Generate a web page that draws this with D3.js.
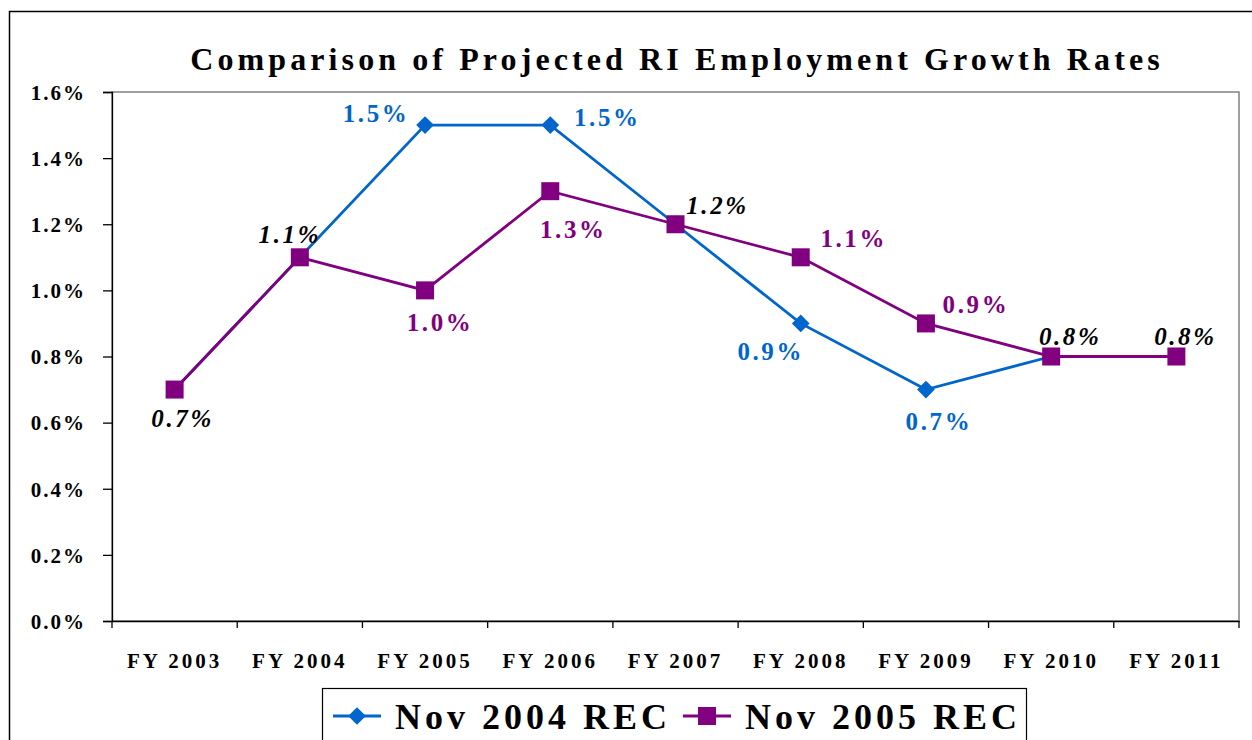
<!DOCTYPE html>
<html>
<head>
<meta charset="utf-8">
<script src="https://cdn.jsdelivr.net/npm/d3@7"></script>
<style>
body{margin:0;background:#fff;}
svg text{font-family:"Liberation Serif","Times New Roman",serif;font-weight:bold;}
</style>
</head>
<body>
<div id="chart"></div>
<script>
var years = ["FY 2003","FY 2004","FY 2005","FY 2006","FY 2007","FY 2008","FY 2009","FY 2010","FY 2011"];
var nov2004 = [0.7, 1.1, 1.5, 1.5, 1.2, 0.9, 0.7, 0.8, null];
var nov2005 = [0.7, 1.1, 1.0, 1.3, 1.2, 1.1, 0.9, 0.8, 0.8];
var yTicks = [0, 0.2, 0.4, 0.6, 0.8, 1.0, 1.2, 1.4, 1.6];
// data labels: year index, value, text, colour key, offset from the point
var labels = [
  {i:0, v:0.7, t:"0.7%", c:"black", dx:8, dy:37},
  {i:1, v:1.1, t:"1.1%", c:"black", dx:-10, dy:-14},
  {i:2, v:1.5, t:"1.5%", c:"blue", dx:-49, dy:-3},
  {i:2, v:1.0, t:"1.0%", c:"purple", dx:15, dy:41},
  {i:3, v:1.5, t:"1.5%", c:"blue", dx:57, dy:1},
  {i:3, v:1.3, t:"1.3%", c:"purple", dx:23, dy:47},
  {i:4, v:1.2, t:"1.2%", c:"black", dx:42, dy:-10},
  {i:5, v:1.1, t:"1.1%", c:"purple", dx:53, dy:-10},
  {i:5, v:0.9, t:"0.9%", c:"blue", dx:-30, dy:37},
  {i:6, v:0.9, t:"0.9%", c:"purple", dx:50, dy:-10},
  {i:6, v:0.7, t:"0.7%", c:"blue", dx:13, dy:40},
  {i:7, v:0.8, t:"0.8%", c:"black", dx:19, dy:-12},
  {i:8, v:0.8, t:"0.8%", c:"black", dx:9, dy:-12}
];

var colors = {blue:"#0066CC", purple:"#800080", black:"#000000"};
var W = 1252, H = 740;
var mLeft = 112, mRight = 1239, mTop = 92, mBottom = 621;

var svg = d3.select("#chart").append("svg").attr("width", W).attr("height", H);

// outer frame
svg.append("rect").attr("x", 9.5).attr("y", 11.5).attr("width", W + 20).attr("height", H)
  .attr("fill", "none").attr("stroke", "#000").attr("stroke-width", 1.5);

var x = d3.scaleBand().domain(years).range([mLeft, mRight]);
var y = d3.scaleLinear().domain([0, 1.6]).range([mBottom, mTop]);

// plot area
svg.append("rect").attr("x", mLeft).attr("y", mTop).attr("width", mRight - mLeft).attr("height", mBottom - mTop)
  .attr("fill", "none").attr("stroke", "#808080").attr("stroke-width", 1.5);

svg.append("text").attr("x", 677).attr("y", 70).attr("text-anchor", "middle")
  .style("font-size", "32px").style("letter-spacing", "4.1px")
  .text("Comparison of Projected RI Employment Growth Rates");

var yAxis = svg.append("g").attr("transform", "translate(" + mLeft + ",0)")
  .call(d3.axisLeft(y).tickValues(yTicks).tickSize(9).tickPadding(17)
    .tickFormat(function(d){ return d.toFixed(1) + "%"; }));
yAxis.selectAll("text").style("font-size", "21px").style("letter-spacing", "2px").attr("fill", "#000").attr("dy", "0.35em");
yAxis.selectAll("line,path").attr("stroke", "#000").attr("stroke-width", 1.3);

var xAxis = svg.append("g").attr("transform", "translate(0," + mBottom + ")")
  .call(d3.axisBottom(x).tickSize(7).tickPadding(25).tickSizeOuter(0));
xAxis.selectAll(".tick line").remove();
xAxis.selectAll("text").style("font-size", "21px").style("letter-spacing", "3px").attr("fill", "#000");
xAxis.select("path").attr("stroke", "#000").attr("stroke-width", 1.3);
// category boundary ticks
xAxis.selectAll(".bound").data(d3.range(years.length + 1)).enter().append("line")
  .attr("class", "bound")
  .attr("x1", function(i){ return mLeft + i * x.bandwidth(); })
  .attr("x2", function(i){ return mLeft + i * x.bandwidth(); })
  .attr("y1", 0).attr("y2", 7).attr("stroke", "#000").attr("stroke-width", 1.3);

function cx(i){ return x(years[i]) + x.bandwidth() / 2; }

var line = d3.line().defined(function(d){ return d != null; })
  .x(function(d, i){ return cx(i); }).y(function(d){ return y(d); });

svg.append("path").datum(nov2004).attr("d", line).attr("fill", "none")
  .attr("stroke", colors.blue).attr("stroke-width", 2.8);
nov2004.forEach(function(d, i){
  if (d == null) return;
  svg.append("path").attr("d", d3.symbol().type(d3.symbolDiamond2).size(200))
    .attr("transform", "translate(" + cx(i) + "," + y(d) + ")").attr("fill", colors.blue);
});

svg.append("path").datum(nov2005).attr("d", line).attr("fill", "none")
  .attr("stroke", colors.purple).attr("stroke-width", 2.8);
nov2005.forEach(function(d, i){
  svg.append("rect").attr("x", cx(i) - 9).attr("y", y(d) - 9).attr("width", 18).attr("height", 18)
    .attr("fill", colors.purple);
});

labels.forEach(function(l){
  svg.append("text").attr("x", cx(l.i) + l.dx).attr("y", y(l.v) + l.dy)
    .attr("text-anchor", "middle").attr("fill", colors[l.c])
    .style("font-size", "25px").style("letter-spacing", "2.6px")
    .style("font-style", l.c == "black" ? "italic" : "normal")
    .text(l.t);
});

// legend
var lg = svg.append("g");
lg.append("rect").attr("x", 322.5).attr("y", 688.5).attr("width", 704).attr("height", 80)
  .attr("fill", "#fff").attr("stroke", "#000").attr("stroke-width", 1.2);
var items = [
  {name:"Nov 2004 REC", c:colors.blue, sym:"d", x:333},
  {name:"Nov 2005 REC", c:colors.purple, sym:"s", x:683}
];
items.forEach(function(it){
  lg.append("line").attr("x1", it.x).attr("x2", it.x + 48).attr("y1", 716).attr("y2", 716)
    .attr("stroke", it.c).attr("stroke-width", 2.8);
  if (it.sym == "d") {
    lg.append("path").attr("d", d3.symbol().type(d3.symbolDiamond2).size(200))
      .attr("transform", "translate(" + (it.x + 24) + ",716)").attr("fill", it.c);
  } else {
    lg.append("rect").attr("x", it.x + 15).attr("y", 707).attr("width", 18).attr("height", 18).attr("fill", it.c);
  }
  lg.append("text").attr("x", it.x + 62).attr("y", 729)
    .style("font-size", "36px").style("letter-spacing", "4px").text(it.name);
});
</script>
</body>
</html>
